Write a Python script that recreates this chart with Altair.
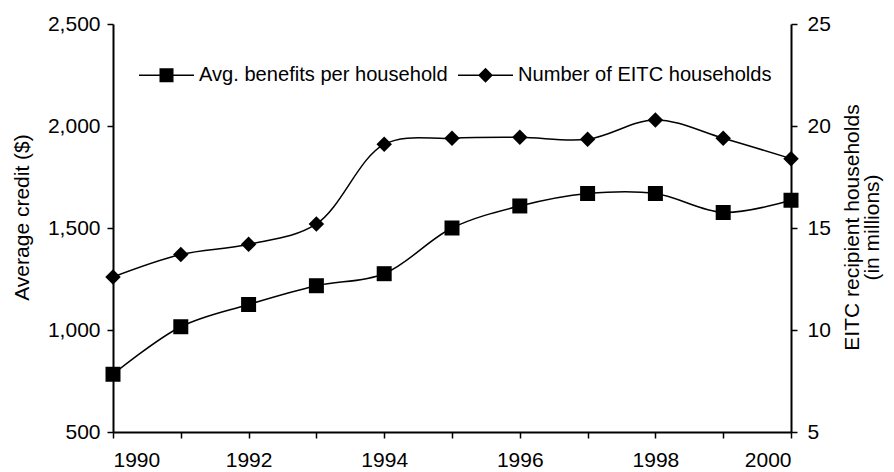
import altair as alt
import pandas as pd

years = list(range(1990, 2001))
avg_benefit = [783, 1016, 1125, 1217, 1276, 1500, 1608, 1669, 1669, 1576, 1636]
eitc_households = [12.6, 13.7, 14.2, 15.2, 19.1, 19.4, 19.45, 19.35, 20.3, 19.4, 18.4]
series_names = ["Avg. benefits per household", "Number of EITC households"]
left_ticks = [500, 1000, 1500, 2000, 2500]
right_ticks = [5, 10, 15, 20, 25]

df = pd.DataFrame({"year": years, "avg": avg_benefit, "num": eitc_households})

FONT = "Liberation Sans"
LINE_SQUARE = "M-1,-0.03H1V0.03H-1Z M-0.255,-0.255H0.255V0.255H-0.255Z"
LINE_DIAMOND = "M-1,-0.03H1V0.03H-1Z M0,-0.27L0.27,0L0,0.27L-0.27,0Z"

x_enc = alt.X(
    "year:Q",
    scale=alt.Scale(domain=[1990, 2000], nice=False, zero=False),
    axis=alt.Axis(
        values=years, format="d",
        labelExpr="datum.value % 2 == 0 ? datum.label : ''",
        title=None, tickSize=6, labelPadding=11,
    ),
)

y_left = alt.Y(
    "avg:Q",
    scale=alt.Scale(domain=[500, 2500], nice=False, zero=False),
    axis=alt.Axis(
        values=left_ticks, format=",d", title="Average credit ($)",
        orient="left", tickSize=6, labelPadding=7,
        titleX=-91, titleY=193, titleAngle=270, titleBaseline="middle", titleAlign="center",
    ),
)

y_right = alt.Y(
    "num:Q",
    scale=alt.Scale(domain=[5, 25], nice=False, zero=False),
    axis=alt.Axis(
        values=right_ticks, title=["EITC recipient households", "(in millions)"],
        orient="right", tickSize=6, labelPadding=10,
        titleX=61, titleY=203, titleAngle=270, titleBaseline="middle", titleAlign="center",
        titleLineHeight=20,
    ),
)

base = alt.Chart(df)

line_avg = base.mark_line(color="black", strokeWidth=1.5, interpolate="catmull-rom").encode(x=x_enc, y=y_left)
pts_avg = base.mark_point(shape="square", filled=True, size=225, color="black", opacity=1).encode(x=x_enc, y=y_left)

legend_layer = base.transform_fold(["avg", "num"], as_=["key", "val"]).transform_calculate(
    series=f"datum.key == 'avg' ? '{series_names[0]}' : '{series_names[1]}'"
).mark_point(filled=True, opacity=0, color="black").encode(
    x=x_enc, y=y_left,
    shape=alt.Shape(
        "series:N",
        scale=alt.Scale(domain=series_names, range=[LINE_SQUARE, LINE_DIAMOND]),
        legend=alt.Legend(
            title=None, orient="none", legendX=26, legendY=23.5, direction="horizontal",
            symbolSize=3025, symbolFillColor="black", symbolStrokeWidth=0, symbolOpacity=1,
            labelFont=FONT, labelFontSize=20.1, labelColor="black", labelLimit=600,
            labelOffset=5, columnPadding=10, padding=0,
        ),
    ),
)

line_num = base.mark_line(color="black", strokeWidth=1.5, interpolate="catmull-rom").encode(x=x_enc, y=y_right)
pts_num = base.mark_point(shape="diamond", filled=True, size=240, color="black", opacity=1).encode(x=x_enc, y=y_right)

left = alt.layer(line_avg, pts_avg, legend_layer)
right = alt.layer(line_num, pts_num)

chart = alt.layer(left, right).resolve_scale(y="independent").properties(
    width=678, height=408,
    autosize=alt.AutoSizeParams(type="none"),
    padding={"left": 105, "top": 16, "right": 95, "bottom": 40},
).configure(font=FONT).configure_view(stroke=None).configure_axis(
    grid=False, domainColor="black", domainWidth=2, tickColor="black", tickWidth=1.5,
    labelColor="black", titleColor="black", labelFont=FONT, titleFont=FONT,
    labelFontSize=21, titleFontSize=21, titleFontWeight="normal",
)

chart.save("out.html", embed_options={"renderer": "svg", "actions": False})
